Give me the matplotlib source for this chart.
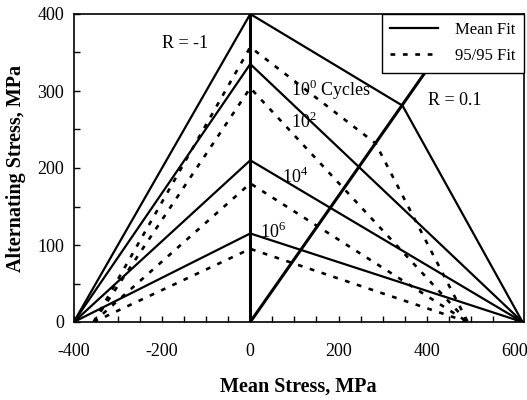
import matplotlib.pyplot as plt
from matplotlib.ticker import MultipleLocator

plt.rcParams['font.family'] = ['Liberation Serif', 'DejaVu Serif']
plt.rcParams['mathtext.fontset'] = 'custom'
plt.rcParams['mathtext.rm'] = 'Liberation Serif'
plt.rcParams['axes.unicode_minus'] = False

# Constant-life lines (mean stress, alternating stress), MPa
cycles = ['10^0', '10^2', '10^4', '10^6']
mean_fit_x = [[-400, 0, 345, 617], [-400, 0, 617], [-400, 0, 617], [-400, 0, 617]]
mean_fit_y = [[0, 400, 281, 0], [0, 335, 0], [0, 210, 0], [0, 115, 0]]
fit95_x = [[-355, 0, 284, 493], [-355, 0, 493], [-355, 0, 493], [-355, 0, 493]]
fit95_y = [[0, 357, 232, 0], [0, 304, 0], [0, 180, 0], [0, 95, 0]]

# Load ratio lines
r_values = [-1, 0.1]
alt_max = 400

fig = plt.figure(figsize=(5.27, 4.0), dpi=100)
ax = fig.add_axes([0.140, 0.195, 0.854, 0.770])

dash = (0, (1.8, 2.9))
for xs, ys in zip(mean_fit_x, mean_fit_y):
    ax.plot(xs, ys, color='black', lw=1.6, solid_joinstyle='miter')
for xs, ys in zip(fit95_x, fit95_y):
    ax.plot(xs, ys, color='black', lw=1.9, linestyle=dash)

# R = -1 is the zero-mean line, R = 0.1 rises from the origin
ax.plot([0, 0], [0, alt_max], color='black', lw=2.2)
slope = (1 - r_values[1]) / (1 + r_values[1])
ax.plot([0, alt_max / slope], [0, alt_max], color='black', lw=2.2)

fs = 13
ax.text(-148, 362, 'R = -1', fontsize=fs, ha='center', va='center')
ax.text(402, 288, 'R = 0.1', fontsize=fs, ha='left', va='center')
ax.text(93, 301, r'$10^0$ Cycles', fontsize=fs, ha='left', va='center')
ax.text(93, 260, r'$10^2$', fontsize=fs, ha='left', va='center')
ax.text(72, 188, r'$10^4$', fontsize=fs, ha='left', va='center')
ax.text(22, 117, r'$10^6$', fontsize=fs, ha='left', va='center')

ax.set_xlim(-400, 620)
ax.set_ylim(0, 400)
ax.xaxis.set_major_locator(MultipleLocator(200))
ax.xaxis.set_minor_locator(MultipleLocator(50))
ax.yaxis.set_major_locator(MultipleLocator(100))
ax.yaxis.set_minor_locator(MultipleLocator(50))
ax.tick_params(which='both', direction='in', labelsize=13, width=1, length=4)
ax.tick_params(axis='x', pad=15)
ax.tick_params(axis='y', pad=7)
for s in ax.spines.values():
    s.set_linewidth(1.2)

ax.set_xlabel('Mean Stress, MPa', fontsize=14.5, fontweight='bold', labelpad=12)
ax.set_ylabel('Alternating Stress, MPa', fontsize=14.5, fontweight='bold', labelpad=8)

h1, = ax.plot([], [], color='black', lw=1.6)
h2, = ax.plot([], [], color='black', lw=1.9, linestyle=dash)
leg = ax.legend([h1, h2], ['Mean Fit', '95/95 Fit'], loc='upper right',
                fontsize=12, fancybox=False, framealpha=1, edgecolor='black',
                borderaxespad=0, handlelength=2.9, borderpad=0.5,
                labelspacing=0.6, handletextpad=1.0)
leg.get_frame().set_linewidth(1.0)

fig.savefig('out.png', dpi=100)
